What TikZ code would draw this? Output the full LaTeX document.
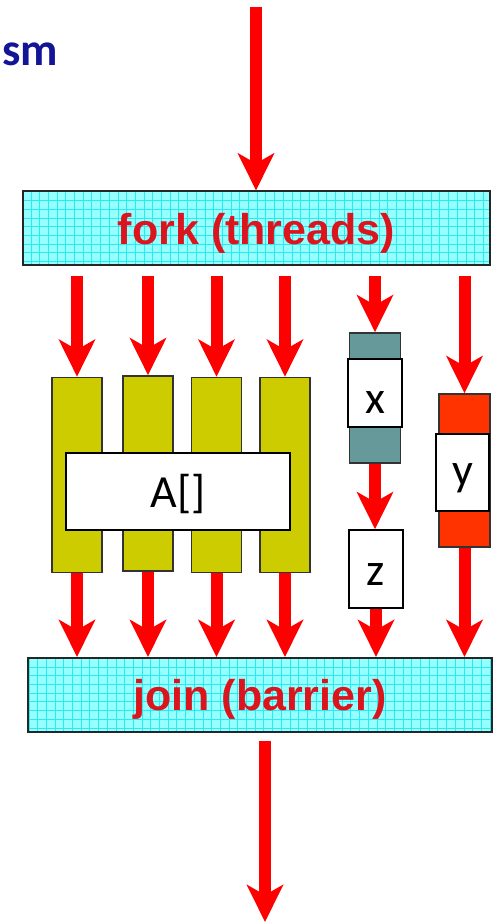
\documentclass[tikz,border=0pt]{standalone}
\usepackage{fontspec}
\setmainfont{Carlito}
\newfontfamily\arialfont{Liberation Sans}
\usetikzlibrary{arrows.meta}
\definecolor{flowred}{RGB}{255,0,0}
\definecolor{gridcyan}{RGB}{150,255,255}
\definecolor{gridline}{RGB}{40,235,240}
\definecolor{barolive}{RGB}{204,204,0}
\definecolor{barteal}{RGB}{102,153,153}
\definecolor{barorange}{RGB}{255,51,0}
\definecolor{labelred}{RGB}{220,20,30}
\definecolor{titleblue}{RGB}{20,20,150}
\tikzset{
    flow/.style={draw=flowred, line width=6pt, -{Stealth[length=18.5pt, width=18pt, inset=5pt]}},
    syncbox/.style={draw=black!85, line width=1pt, fill=gridcyan, minimum width=233.5pt, minimum height=37pt, inner sep=0pt,
        text=labelred, font=\arialfont\bfseries\fontsize{21.5}{21.5}\selectfont, text depth=0pt,
        path picture={\draw[gridline, line width=0.4pt, step=4.35pt] (path picture bounding box.south west) grid (path picture bounding box.north east);}},
    bar/.style={draw=black!80, line width=0.8pt, minimum width=25pt, minimum height=97.5pt, inner sep=0pt},
    varbox/.style={draw=black, line width=0.8pt, fill=white, inner sep=0pt, font=\fontsize{23}{23}\selectfont,
        text height=16pt, text depth=0pt}
}
\begin{document}
\begin{tikzpicture}[x=0.5pt, y=-0.5pt]
    \useasboundingbox (0,0) rectangle (496,924);
    \node[anchor=base west, inner sep=0pt, text=titleblue, font=\bfseries\fontsize{23}{23}\selectfont] (title) at (2,66) {sm};

    \coordinate (start) at (256,7);
    \node[syncbox] (fork) at (256.5,228.5) {fork (threads)};

    \node[bar, fill=barolive] (b1) at (77,475) {};
    \node[bar, fill=barolive] (b2) at (148,473.5) {};
    \node[bar, fill=barolive] (b3) at (216.5,475) {};
    \node[bar, fill=barolive] (b4) at (285,475) {};
    \node[varbox, minimum width=112pt, minimum height=38.5pt] (arr) at (178,491.5) {A[]};

    \node[bar, fill=barteal, minimum width=25.5pt, minimum height=65pt] (tx) at (375,398) {};
    \node[varbox, minimum width=27pt, minimum height=34pt, text height=20pt] (x) at (375,393) {x};
    \node[varbox, minimum width=27pt, minimum height=39pt] (z) at (376,569) {z};

    \node[bar, fill=barorange, minimum width=25.5pt, minimum height=76.5pt] (ty) at (464.5,470.5) {};
    \node[varbox, minimum width=26.5pt, minimum height=38.5pt, text height=12.5pt] (y) at (462.5,472.5) {y};

    \node[syncbox, minimum width=232pt] (join) at (260,695) {join (barrier)};
    \coordinate (end) at (265,922);

    \draw[flow] (start) -- (start |- fork.north);
    \foreach \t in {b1,b2,b3,b4,tx,ty}
        \draw[flow, shorten <=5pt] (fork.south -| \t) -- (\t.north);
    \draw[flow] (tx.south) -- (tx.south |- z.north);
    \foreach \t in {b1,b2,b3,b4,z,ty}
        \draw[flow] (\t.south) -- (\t.south |- join.north);
    \draw[flow, shorten <=4pt] (join.south -| end) -- (end);
\end{tikzpicture}
\end{document}
